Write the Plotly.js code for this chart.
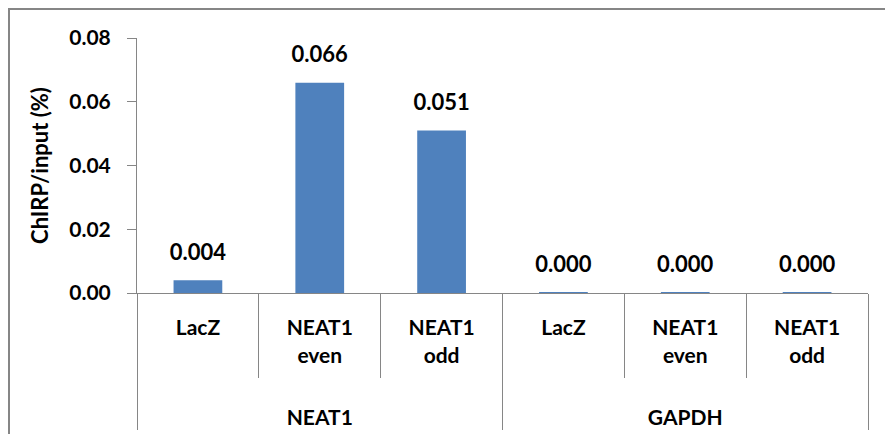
<!DOCTYPE html>
<html>
<head>
<meta charset="utf-8">
<script src="https://cdn.plot.ly/plotly-3.0.1.min.js"></script>
<style>
html,body{margin:0;padding:0;background:#fff;}
#chart{width:885px;height:434px;}
</style>
</head>
<body>
<div id="chart"></div>
<script>
// ---- data ----
var groups = ["NEAT1", "NEAT1", "NEAT1", "GAPDH", "GAPDH", "GAPDH"];
var probes = ["LacZ", "NEAT1<br>even", "NEAT1<br>odd", "LacZ", "NEAT1<br>even", "NEAT1<br>odd"];
var values = [0.004, 0.066, 0.051, 0.0003, 0.0003, 0.0003];
var yTitle = "ChIRP/input (%)";

var FONT = "Lato, 'Open Sans', sans-serif";
var axisGray = "#868686";

// blank label lines push the group row (second level) further down, as in the reference
var probeLabels = probes.map(function(p){
  var lines = p.split("<br>").length;
  var out = p;
  for (var i = lines; i < 3; i++) out += "<br>\u00a0";
  out += "<br><span style='font-size:3px'>\u00a0</span>";
  return out;
});

var bars = {
  type: "bar",
  x: [groups, probeLabels],
  y: values,
  marker: {color: "#4F81BD"},
  hoverinfo: "skip"
};

var labels = {
  type: "scatter",
  mode: "markers+text",
  x: [groups, probeLabels],
  y: values,
  text: values.map(function(v){ return v.toFixed(3); }),
  textposition: "top center",
  textfont: {family: FONT, size: 22, color: "#000", weight: 700},
  marker: {size: 22, opacity: 0},
  cliponaxis: false,
  hoverinfo: "skip"
};

var layout = {
  width: 885,
  height: 434,
  margin: {l: 137, r: 17, t: 38, b: 141},
  paper_bgcolor: "#fff",
  plot_bgcolor: "rgba(0,0,0,0)",
  showlegend: false,
  bargap: 0.6,
  font: {family: FONT, color: "#000"},
  xaxis: {
    type: "multicategory",
    showline: true,
    linecolor: axisGray,
    linewidth: 1,
    ticks: "outside",
    ticklen: 84,
    tickcolor: axisGray,
    tickwidth: 1,
    ticklabelstandoff: 16,
    showdividers: true,
    dividercolor: axisGray,
    dividerwidth: 1,
    tickfont: {family: FONT, size: 21, color: "#000", weight: 700},
    showgrid: false,
    fixedrange: true
  },
  yaxis: {
    range: [0, 0.08],
    dtick: 0.02,
    tickformat: ".2f",
    showline: true,
    linecolor: axisGray,
    linewidth: 1,
    ticks: "outside",
    ticklen: 9,
    tickcolor: axisGray,
    showgrid: false,
    zeroline: false,
    ticklabelstandoff: 12,
    tickfont: {family: FONT, size: 21, color: "#000", weight: 700},
    title: {text: yTitle, font: {family: FONT, size: 22, color: "#000", weight: 700}, standoff: 14},
    fixedrange: true
  },
  shapes: [{
    type: "rect", xref: "paper", yref: "paper", layer: "below",
    x0: -0.1751, x1: 1.2, y0: -0.8, y1: 1.1137,
    line: {color: axisGray, width: 2}, fillcolor: "rgba(0,0,0,0)"
  }]
};

Plotly.newPlot("chart", [bars, labels], layout, {displayModeBar: false, staticPlot: true});
</script>
</body>
</html>
